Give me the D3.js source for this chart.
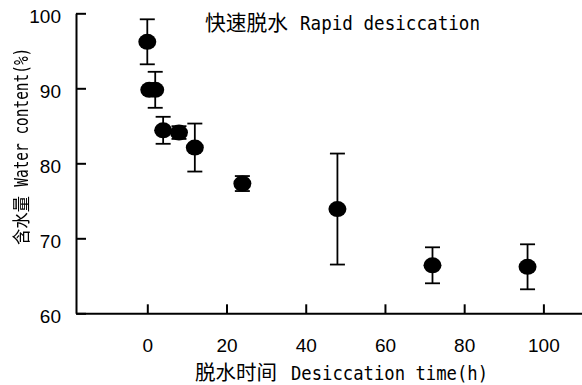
<!DOCTYPE html>
<html>
<head>
<meta charset="utf-8">
<script src="https://cdn.jsdelivr.net/npm/d3@7"></script>
<style>
  body { margin: 0; background: #fff; }
  svg { display: block; }
</style>
</head>
<body>
<div id="chart"></div>
<script>
// desiccation time (h), water content (%), error (%)
const times = [0, 0.5, 2, 4, 8, 12, 24, 48, 72, 96];
const water = [96.2, 89.8, 89.8, 84.4, 84.1, 82.1, 77.3, 73.9, 66.4, 66.2];
const errs = [3.0, 0, 2.4, 1.8, 0.85, 3.2, 1.0, 7.4, 2.4, 3.0];

const xTicks = [0, 20, 40, 60, 80, 100];
const yTicks = [60, 70, 80, 90, 100];

const width = 582, height = 385;
const CJK = '"Noto Sans CJK SC", sans-serif';
const MONO = '"DejaVu Sans Mono", monospace';
const SANS = '"Liberation Sans", Arial, sans-serif';

const svg = d3.select('#chart')
    .append('svg')
    .attr('width', width)
    .attr('height', height);

const x = d3.scaleLinear().domain([-18, 110]).range([76, 583]);
const y = d3.scaleLinear().domain([60, 100]).range([313.3, 13.3]);

// axes
const yAxis = svg.append('g')
    .attr('transform', 'translate(76,0)')
    .call(d3.axisLeft(y).tickValues(yTicks).tickSize(-10).tickSizeOuter(0).tickPadding(15));

const xAxis = svg.append('g')
    .attr('transform', 'translate(0,313.3)')
    .call(d3.axisBottom(x).tickValues(xTicks).tickSize(-9).tickSizeOuter(0).tickPadding(25));

[xAxis, yAxis].forEach(ax => {
    ax.select('.domain').attr('stroke', '#000').attr('stroke-width', 2);
    ax.selectAll('.tick line').attr('stroke', '#000').attr('stroke-width', 2);
    ax.selectAll('.tick text')
        .attr('fill', '#000')
        .style('font-family', SANS)
        .style('font-size', '19px');
});
yAxis.selectAll('.tick text').attr('dy', '0.47em');

// error bars
const data = times.map((t, i) => ({t: t, v: water[i], e: errs[i]}));
const bars = svg.append('g')
    .selectAll('g')
    .data(data.filter(d => d.e > 0))
    .enter().append('g')
    .attr('stroke', '#000')
    .attr('stroke-width', 1.8);

bars.append('line')
    .attr('x1', d => x(d.t)).attr('x2', d => x(d.t))
    .attr('y1', d => y(d.v + d.e)).attr('y2', d => y(d.v - d.e));
bars.append('line')
    .attr('x1', d => x(d.t) - 7.5).attr('x2', d => x(d.t) + 7.5)
    .attr('y1', d => y(d.v + d.e)).attr('y2', d => y(d.v + d.e));
bars.append('line')
    .attr('x1', d => x(d.t) - 7.5).attr('x2', d => x(d.t) + 7.5)
    .attr('y1', d => y(d.v - d.e)).attr('y2', d => y(d.v - d.e));

// points
svg.append('g')
    .selectAll('ellipse')
    .data(data)
    .enter().append('ellipse')
    .attr('cx', d => x(d.t))
    .attr('cy', d => y(d.v))
    .attr('rx', 9)
    .attr('ry', 8)
    .attr('fill', '#000');

// mixed CJK + latin labels; len squeezes the run to the measured width
function label(parent, px, py, str, family, size, len) {
    const t = parent.append('text')
        .attr('x', px)
        .attr('y', py)
        .style('font-family', family)
        .style('font-size', size + 'px')
        .style('fill', '#000')
        .text(str);
    if (len) t.attr('textLength', len).attr('lengthAdjust', 'spacingAndGlyphs');
}

// title
label(svg, 205, 29.5, '快速脱水', CJK, 21, 83);
label(svg, 300, 29.5, 'Rapid desiccation', MONO, 19.5, 180);

// x title
label(svg, 195, 380, '脱水时间', CJK, 20, 82);
label(svg, 291, 380, 'Desiccation time(h)', MONO, 19, 197);

// y title, grayscale filter stops colour fringes on the rotated glyphs
const yt = svg.append('g')
    .attr('transform', 'translate(27.5,245) rotate(-90)')
    .style('filter', 'grayscale(1)');
label(yt, 0, 0, '含水量', CJK, 18.5, 49);
label(yt, 58.3, 0, 'Water content(%)', MONO, 19.5, 139);
</script>
</body>
</html>
